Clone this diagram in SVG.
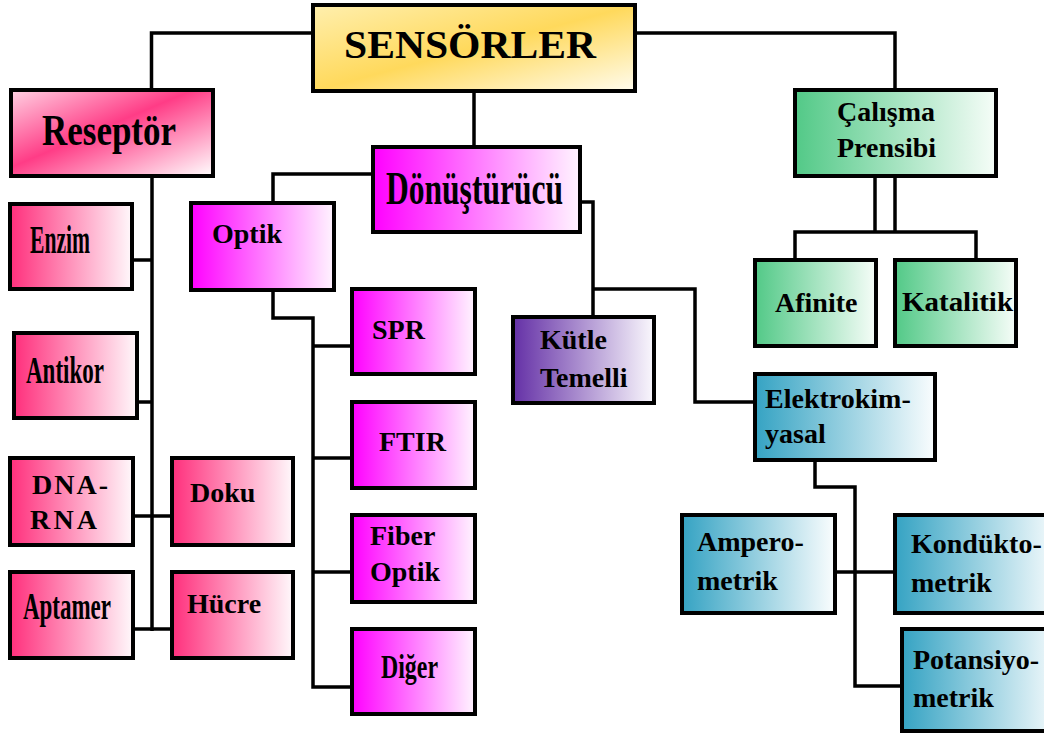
<svg xmlns="http://www.w3.org/2000/svg" width="1044" height="735" viewBox="0 0 1044 735">
  <defs>
    <linearGradient id="gGold" x1="0" y1="0" x2="1" y2="1">
      <stop offset="0" stop-color="#FFEFAE"/>
      <stop offset="0.5" stop-color="#FFD95C"/>
      <stop offset="1" stop-color="#FFFCEE"/>
    </linearGradient>
    <linearGradient id="gPinkDiag" x1="0" y1="0" x2="1" y2="1">
      <stop offset="0" stop-color="#FFD2E3"/>
      <stop offset="0.45" stop-color="#FF3C86"/>
      <stop offset="1" stop-color="#FFFFFF"/>
    </linearGradient>
    <linearGradient id="gPink" x1="0" y1="0" x2="1" y2="0">
      <stop offset="0" stop-color="#FF2F7C"/>
      <stop offset="1" stop-color="#FFF8FB"/>
    </linearGradient>
    <linearGradient id="gMagenta" x1="0" y1="0" x2="1" y2="0">
      <stop offset="0" stop-color="#FF00FF"/>
      <stop offset="1" stop-color="#FFF4FF"/>
    </linearGradient>
    <linearGradient id="gPurple" x1="0" y1="0" x2="1" y2="0">
      <stop offset="0" stop-color="#6430A6"/>
      <stop offset="1" stop-color="#FAF8FD"/>
    </linearGradient>
    <linearGradient id="gGreen" x1="0" y1="0" x2="1" y2="0">
      <stop offset="0" stop-color="#52C987"/>
      <stop offset="1" stop-color="#F6FDF8"/>
    </linearGradient>
    <linearGradient id="gBlue" x1="0" y1="0" x2="1" y2="0">
      <stop offset="0" stop-color="#35A3C3"/>
      <stop offset="1" stop-color="#FAFDFE"/>
    </linearGradient>
  </defs>
  <style>
    .box { stroke: #000; stroke-width: 4; }
    text { font-family: "Liberation Serif", "Times New Roman", serif; font-weight: bold; font-size: 28px; fill: #000; }
    .big { font-size: 44px; }
    .cond { font-size: 37px; }
    #connectors polyline, #connectors line { fill: none; stroke: #000; stroke-width: 3.5; stroke-linejoin: miter; }
  </style>

  <rect width="1044" height="735" fill="#FFFFFF"/>

  <!-- connectors -->
  <g id="connectors">
    <polyline points="313,33 151.5,33 151.5,90"/>
    <polyline points="635,33 895,33 895,90"/>
    <line x1="474" y1="91" x2="474" y2="147"/>
    <!-- receptor spine -->
    <line x1="152" y1="176" x2="152" y2="631"/>
    <line x1="132" y1="260" x2="152" y2="260"/>
    <line x1="134" y1="402" x2="152" y2="402"/>
    <line x1="133" y1="516" x2="172" y2="516"/>
    <line x1="133" y1="629" x2="172" y2="629"/>
    <!-- transducer: optical branch -->
    <polyline points="373,174 273,174 273,203"/>
    <polyline points="273,290 273,318 313,318 313,687 353,687"/>
    <line x1="313" y1="346" x2="352" y2="346"/>
    <line x1="313" y1="458" x2="352" y2="458"/>
    <line x1="313" y1="572" x2="352" y2="572"/>
    <!-- transducer: mass and electrochemical branch -->
    <polyline points="578,202 593,202 593,317"/>
    <polyline points="593,289 695,289 695,402 755,402"/>
    <!-- working principle -->
    <line x1="875" y1="176" x2="875" y2="232"/>
    <line x1="895" y1="176" x2="895" y2="232"/>
    <polyline points="795,260 795,232 976,232 976,260"/>
    <!-- electrochemical types -->
    <polyline points="815,460 815,487 855,487 855,686 902,686"/>
    <line x1="835" y1="572" x2="895" y2="572"/>
  </g>

  <g id="sensorler">
    <rect class="box" x="313" y="5" width="322" height="86" fill="url(#gGold)"/>
    <text style="font-size:40px" x="344" y="58" textLength="252" lengthAdjust="spacingAndGlyphs">SENSÖRLER</text>
  </g>

  <g id="reseptor">
    <rect class="box" x="11" y="90" width="202" height="86" fill="url(#gPinkDiag)"/>
    <text class="big" x="42" y="145" textLength="134" lengthAdjust="spacingAndGlyphs">Reseptör</text>
  </g>

  <g id="donusturucu">
    <rect class="box" x="373" y="147" width="207" height="85" fill="url(#gMagenta)"/>
    <text style="font-size:47px" x="386" y="204" textLength="177" lengthAdjust="spacingAndGlyphs">Dönüştürücü</text>
  </g>

  <g id="calisma-prensibi">
    <rect class="box" x="795" y="90" width="201" height="86" fill="url(#gGreen)"/>
    <text x="837" y="121">Çalışma</text>
    <text x="837" y="157">Prensibi</text>
  </g>

  <g id="afinite">
    <rect class="box" x="755" y="260" width="121" height="86" fill="url(#gGreen)"/>
    <text x="775" y="312">Afinite</text>
  </g>

  <g id="katalitik">
    <rect class="box" x="895" y="260" width="121" height="86" fill="url(#gGreen)"/>
    <text x="902" y="311" textLength="111" lengthAdjust="spacingAndGlyphs">Katalitik</text>
  </g>

  <g id="enzim">
    <rect class="box" x="10" y="204" width="122" height="85" fill="url(#gPink)"/>
    <text style="font-size:39px" x="30" y="253" textLength="60" lengthAdjust="spacingAndGlyphs">Enzim</text>
  </g>

  <g id="antikor">
    <rect class="box" x="14" y="333" width="123" height="85" fill="url(#gPink)"/>
    <text class="cond" x="26" y="383" textLength="78" lengthAdjust="spacingAndGlyphs">Antikor</text>
  </g>

  <g id="dna-rna">
    <rect class="box" x="10" y="458" width="123" height="87" fill="url(#gPink)"/>
    <text x="32" y="494" textLength="76" lengthAdjust="spacing">DNA-</text>
    <text x="30" y="529" textLength="67" lengthAdjust="spacing">RNA</text>
  </g>

  <g id="doku">
    <rect class="box" x="172" y="458" width="121" height="87" fill="url(#gPink)"/>
    <text x="190" y="502">Doku</text>
  </g>

  <g id="aptamer">
    <rect class="box" x="10" y="572" width="123" height="86" fill="url(#gPink)"/>
    <text class="cond" x="23" y="619" textLength="88" lengthAdjust="spacingAndGlyphs">Aptamer</text>
  </g>

  <g id="hucre">
    <rect class="box" x="172" y="572" width="121" height="86" fill="url(#gPink)"/>
    <text x="187" y="613">Hücre</text>
  </g>

  <g id="optik">
    <rect class="box" x="191" y="203" width="143" height="87" fill="url(#gMagenta)"/>
    <text x="212" y="243">Optik</text>
  </g>

  <g id="spr">
    <rect class="box" x="352" y="289" width="123" height="85" fill="url(#gMagenta)"/>
    <text x="372" y="339">SPR</text>
  </g>

  <g id="ftir">
    <rect class="box" x="352" y="402" width="123" height="86" fill="url(#gMagenta)"/>
    <text x="379" y="451">FTIR</text>
  </g>

  <g id="fiber-optik">
    <rect class="box" x="352" y="515" width="123" height="87" fill="url(#gMagenta)"/>
    <text x="370" y="545">Fiber</text>
    <text x="370" y="581">Optik</text>
  </g>

  <g id="diger">
    <rect class="box" x="352" y="629" width="123" height="85" fill="url(#gMagenta)"/>
    <text style="font-size:34px" x="381" y="678" textLength="57" lengthAdjust="spacingAndGlyphs">Diğer</text>
  </g>

  <g id="kutle-temelli">
    <rect class="box" x="513" y="317" width="141" height="86" fill="url(#gPurple)"/>
    <text x="540" y="349">Kütle</text>
    <text x="540" y="387">Temelli</text>
  </g>

  <g id="elektrokimyasal">
    <rect class="box" x="755" y="374" width="180" height="86" fill="url(#gBlue)"/>
    <text x="765" y="408">Elektrokim-</text>
    <text x="765" y="443">yasal</text>
  </g>

  <g id="amperometrik">
    <rect class="box" x="682" y="515" width="153" height="98" fill="url(#gBlue)"/>
    <text x="697" y="551">Ampero-</text>
    <text x="697" y="590">metrik</text>
  </g>

  <g id="konduktometrik">
    <rect class="box" x="895" y="515" width="165" height="98" fill="url(#gBlue)"/>
    <text x="911" y="553">Kondükto-</text>
    <text x="911" y="592">metrik</text>
  </g>

  <g id="potansiyometrik">
    <rect class="box" x="902" y="629" width="160" height="102" fill="url(#gBlue)"/>
    <text x="913" y="669">Potansiyo-</text>
    <text x="913" y="707">metrik</text>
  </g>
</svg>
